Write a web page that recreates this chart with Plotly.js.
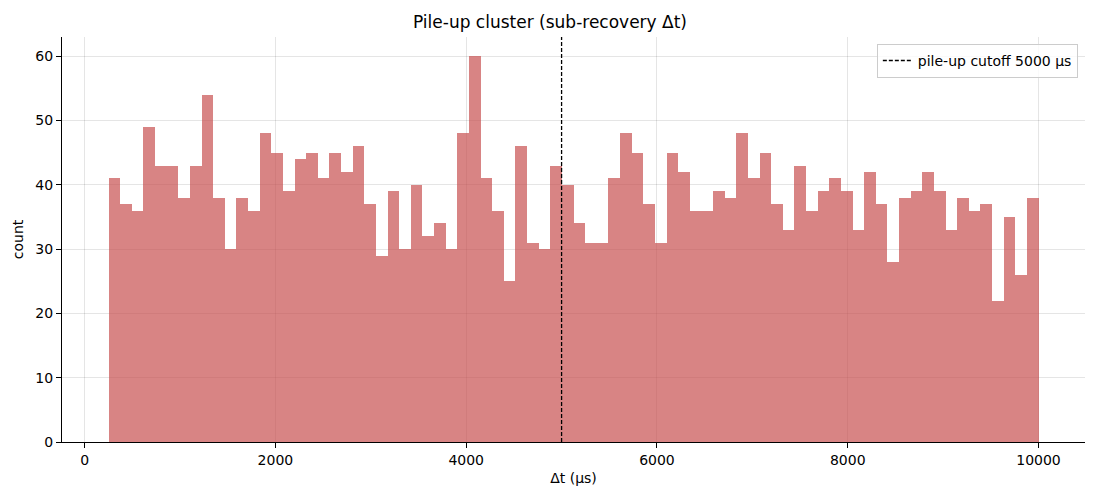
<!DOCTYPE html>
<html>
<head>
<meta charset="utf-8">
<script src="https://cdn.plot.ly/plotly-3.0.1.min.js"></script>
<style>html,body{margin:0;padding:0;background:#fff}#chart{width:1100px;height:500px}</style>
</head>
<body>
<div id="chart"></div>
<script>
// Histogram data: 80 equal bins from binStart to binEnd (µs)
const binStart = 250;
const binEnd = 10000;
const counts = [41,37,36,49,43,43,38,43,54,38,30,38,36,48,45,39,44,45,41,45,
                42,46,37,29,39,30,40,32,34,30,48,60,41,36,25,46,31,30,43,40,
                34,31,31,41,48,45,37,31,45,42,36,36,39,38,48,41,45,37,33,43,
                36,39,41,39,33,42,37,28,38,39,42,39,33,38,36,37,22,35,26,38];
const cutoff = 5000;
const cutoffLabel = "pile-up cutoff 5000 μs";
const xTicks = [0,2000,4000,6000,8000,10000];
const yTicks = [0,10,20,30,40,50,60];

const binWidth = (binEnd - binStart) / counts.length;
const centers = counts.map((_, i) => binStart + binWidth * (i + 0.5));
const yMax = Math.max(...counts) * 1.05;
const xPad = (binEnd - binStart) * 0.05;

const font = {family: "DejaVu Sans, sans-serif", size: 14, color: "#000"};

const traces = [
  {
    type: "bar",
    x: centers,
    y: counts,
    width: binWidth,
    marker: {color: "rgba(200,80,80,0.7)", line: {width: 0}},
    showlegend: false,
    hoverinfo: "x+y"
  },
  {
    type: "scatter",
    mode: "lines",
    x: [cutoff, cutoff],
    y: [0, yMax],
    line: {color: "#000", width: 1.3, dash: "4px,2px"},
    name: cutoffLabel,
    showlegend: true
  }
];

const layout = {
  width: 1100, height: 500,
  margin: {l: 62, r: 15, t: 37, b: 58},
  paper_bgcolor: "#fff", plot_bgcolor: "#fff",
  font: font,
  bargap: 0,
  title: {text: "Pile-up cluster (sub-recovery Δt)", font: {family: "DejaVu Sans, sans-serif", size: 17, color: "#000"}, x: 0.5, xanchor: "center", y: 0.955, yanchor: "middle"},
  xaxis: {
    range: [binStart - xPad, binEnd + xPad],
    tickvals: xTicks, ticktext: xTicks.map(String),
    showgrid: true, gridcolor: "rgba(0,0,0,0.1)", gridwidth: 1,
    zeroline: false, showline: true, linecolor: "#000", linewidth: 1,
    ticks: "outside", ticklen: 5, tickcolor: "#000", tickwidth: 1,
    tickfont: font,
    title: {text: "Δt (μs)", font: font, standoff: 6}
  },
  yaxis: {
    range: [0, yMax],
    tickvals: yTicks, ticktext: yTicks.map(String),
    showgrid: true, gridcolor: "rgba(0,0,0,0.1)", gridwidth: 1,
    zeroline: false, showline: true, linecolor: "#000", linewidth: 1,
    ticks: "outside", ticklen: 5, tickcolor: "#000", tickwidth: 1,
    tickfont: font,
    title: {text: "count", font: font, standoff: 8}
  },
  legend: {
    x: 0.993, y: 0.983, xanchor: "right", yanchor: "top",
    bgcolor: "rgba(255,255,255,0.8)", bordercolor: "#ccc", borderwidth: 1,
    font: font, tracegroupgap: 0
  }
};

Plotly.newPlot("chart", traces, layout, {displayModeBar: false, staticPlot: true});
</script>
</body>
</html>
